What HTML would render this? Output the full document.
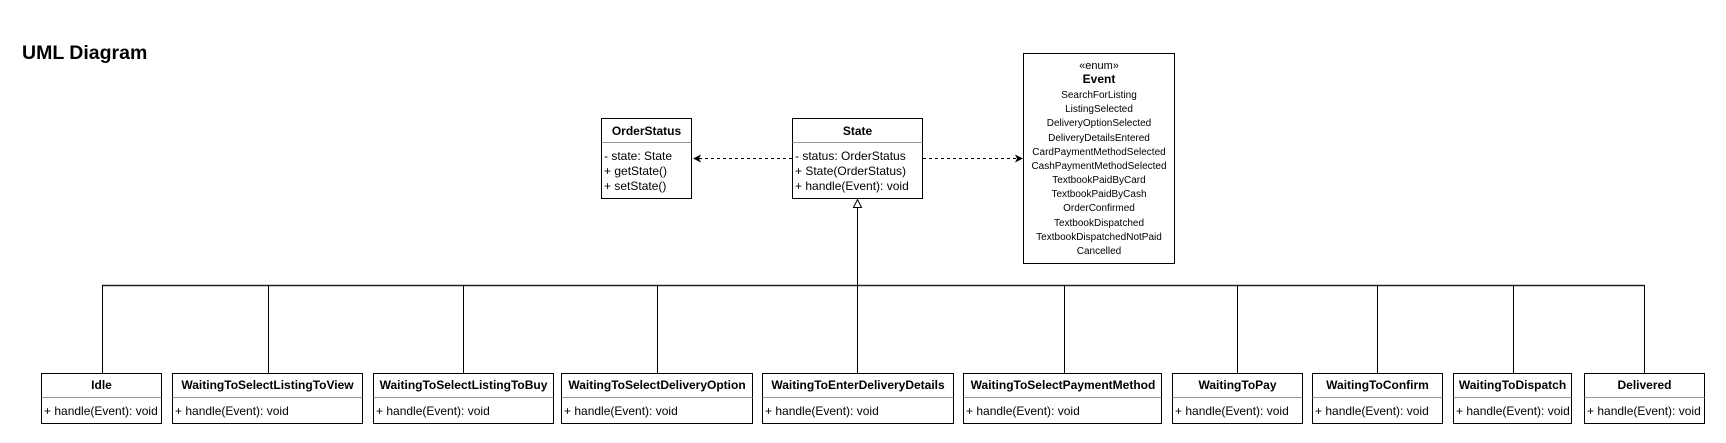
<!DOCTYPE html>
<html><head><meta charset="utf-8"><style>
html,body{margin:0;padding:0;background:#fff;}
svg{display:block;font-family:"Liberation Sans",Arial,sans-serif;}
</style></head><body>
<svg width="1726" height="443" viewBox="0 0 1726 443" xmlns="http://www.w3.org/2000/svg">
<rect width="1726" height="443" fill="#fff"/>
<text x="22" y="59" font-size="19.5" font-weight="bold" fill="#000">UML Diagram</text>

<!-- OrderStatus -->
<rect x="601.5" y="118.5" width="90" height="80" fill="#fff" stroke="#000"/>
<line x1="601.5" y1="142.5" x2="691.5" y2="142.5" stroke="#999"/>
<text x="646.5" y="135" font-size="12" font-weight="bold" text-anchor="middle">OrderStatus</text>
<text font-size="12"><tspan x="604" y="160">- state: State</tspan><tspan x="604" y="175">+ getState()</tspan><tspan x="604" y="190">+ setState()</tspan></text>

<!-- State -->
<rect x="792.5" y="118.5" width="130" height="80" fill="#fff" stroke="#000"/>
<line x1="792.5" y1="142.5" x2="922.5" y2="142.5" stroke="#999"/>
<text x="857.5" y="135" font-size="12" font-weight="bold" text-anchor="middle">State</text>
<text font-size="12"><tspan x="795" y="160">- status: OrderStatus</tspan><tspan x="795" y="175">+ State(OrderStatus)</tspan><tspan x="795" y="190">+ handle(Event): void</tspan></text>

<!-- Event -->
<rect x="1023.5" y="53.5" width="151" height="210" fill="#fff" stroke="#000"/>
<g font-size="10" text-anchor="middle">
<text x="1099" y="69" font-size="11">«enum»</text>
<text x="1099" y="83" font-size="12" font-weight="bold">Event</text>
<text x="1099" y="98">SearchForListing</text>
<text x="1099" y="112">ListingSelected</text>
<text x="1099" y="126">DeliveryOptionSelected</text>
<text x="1099" y="141">DeliveryDetailsEntered</text>
<text x="1099" y="155">CardPaymentMethodSelected</text>
<text x="1099" y="169">CashPaymentMethodSelected</text>
<text x="1099" y="183">TextbookPaidByCard</text>
<text x="1099" y="197">TextbookPaidByCash</text>
<text x="1099" y="211">OrderConfirmed</text>
<text x="1099" y="226">TextbookDispatched</text>
<text x="1099" y="240">TextbookDispatchedNotPaid</text>
<text x="1099" y="254">Cancelled</text>
</g>

<!-- dashed deps -->
<line x1="792" y1="158.5" x2="697" y2="158.5" stroke="#000" stroke-dasharray="3,3"/>
<path d="M693 158.5 L701 154.5 L699 158.5 L701 162.5 Z" fill="#000"/>
<line x1="923" y1="158.5" x2="1018" y2="158.5" stroke="#000" stroke-dasharray="3,3"/>
<path d="M1023 158.5 L1015 154.5 L1017 158.5 L1015 162.5 Z" fill="#000"/>

<!-- inheritance -->
<path d="M857.5 199.5 L853.5 207.5 L861.5 207.5 Z" fill="#fff" stroke="#000"/>
<line x1="857.5" y1="207.5" x2="857.5" y2="285.5" stroke="#000"/>
<line x1="102" y1="285.5" x2="1644" y2="285.5" stroke="#222" stroke-width="1.5"/>
<g stroke="#000">
<line x1="102.5" y1="285" x2="102.5" y2="373"/>
<line x1="268.5" y1="285" x2="268.5" y2="373"/>
<line x1="463.5" y1="285" x2="463.5" y2="373"/>
<line x1="657.5" y1="285" x2="657.5" y2="373"/>
<line x1="857.5" y1="285" x2="857.5" y2="373"/>
<line x1="1064.5" y1="285" x2="1064.5" y2="373"/>
<line x1="1237.5" y1="285" x2="1237.5" y2="373"/>
<line x1="1377.5" y1="285" x2="1377.5" y2="373"/>
<line x1="1513.5" y1="285" x2="1513.5" y2="373"/>
<line x1="1644.5" y1="285" x2="1644.5" y2="373"/>
</g>

<!-- bottom classes -->
<g font-size="12">
<rect x="41.5" y="373.5" width="120" height="50" fill="#fff" stroke="#000"/><line x1="41.5" y1="397.5" x2="161.5" y2="397.5" stroke="#999"/>
<text x="101.5" y="389" font-weight="bold" text-anchor="middle">Idle</text><text x="44" y="415">+ handle(Event): void</text>

<rect x="172.5" y="373.5" width="190" height="50" fill="#fff" stroke="#000"/><line x1="172.5" y1="397.5" x2="362.5" y2="397.5" stroke="#999"/>
<text x="267.5" y="389" font-weight="bold" text-anchor="middle">WaitingToSelectListingToView</text><text x="175" y="415">+ handle(Event): void</text>

<rect x="373.5" y="373.5" width="180" height="50" fill="#fff" stroke="#000"/><line x1="373.5" y1="397.5" x2="553.5" y2="397.5" stroke="#999"/>
<text x="463.5" y="389" font-weight="bold" text-anchor="middle">WaitingToSelectListingToBuy</text><text x="376" y="415">+ handle(Event): void</text>

<rect x="561.5" y="373.5" width="191" height="50" fill="#fff" stroke="#000"/><line x1="561.5" y1="397.5" x2="752.5" y2="397.5" stroke="#999"/>
<text x="657" y="389" font-weight="bold" text-anchor="middle">WaitingToSelectDeliveryOption</text><text x="564" y="415">+ handle(Event): void</text>

<rect x="762.5" y="373.5" width="191" height="50" fill="#fff" stroke="#000"/><line x1="762.5" y1="397.5" x2="953.5" y2="397.5" stroke="#999"/>
<text x="858" y="389" font-weight="bold" text-anchor="middle">WaitingToEnterDeliveryDetails</text><text x="765" y="415">+ handle(Event): void</text>

<rect x="963.5" y="373.5" width="198" height="50" fill="#fff" stroke="#000"/><line x1="963.5" y1="397.5" x2="1161.5" y2="397.5" stroke="#999"/>
<text x="1063" y="389" font-weight="bold" text-anchor="middle">WaitingToSelectPaymentMethod</text><text x="966" y="415">+ handle(Event): void</text>

<rect x="1172.5" y="373.5" width="130" height="50" fill="#fff" stroke="#000"/><line x1="1172.5" y1="397.5" x2="1302.5" y2="397.5" stroke="#999"/>
<text x="1237.5" y="389" font-weight="bold" text-anchor="middle">WaitingToPay</text><text x="1175" y="415">+ handle(Event): void</text>

<rect x="1312.5" y="373.5" width="130" height="50" fill="#fff" stroke="#000"/><line x1="1312.5" y1="397.5" x2="1442.5" y2="397.5" stroke="#999"/>
<text x="1377.5" y="389" font-weight="bold" text-anchor="middle">WaitingToConfirm</text><text x="1315" y="415">+ handle(Event): void</text>

<rect x="1453.5" y="373.5" width="118" height="50" fill="#fff" stroke="#000"/><line x1="1453.5" y1="397.5" x2="1571.5" y2="397.5" stroke="#999"/>
<text x="1512.5" y="389" font-weight="bold" text-anchor="middle">WaitingToDispatch</text><text x="1456" y="415">+ handle(Event): void</text>

<rect x="1584.5" y="373.5" width="120" height="50" fill="#fff" stroke="#000"/><line x1="1584.5" y1="397.5" x2="1704.5" y2="397.5" stroke="#999"/>
<text x="1644.5" y="389" font-weight="bold" text-anchor="middle">Delivered</text><text x="1587" y="415">+ handle(Event): void</text>
</g>
</svg>
</body></html>
